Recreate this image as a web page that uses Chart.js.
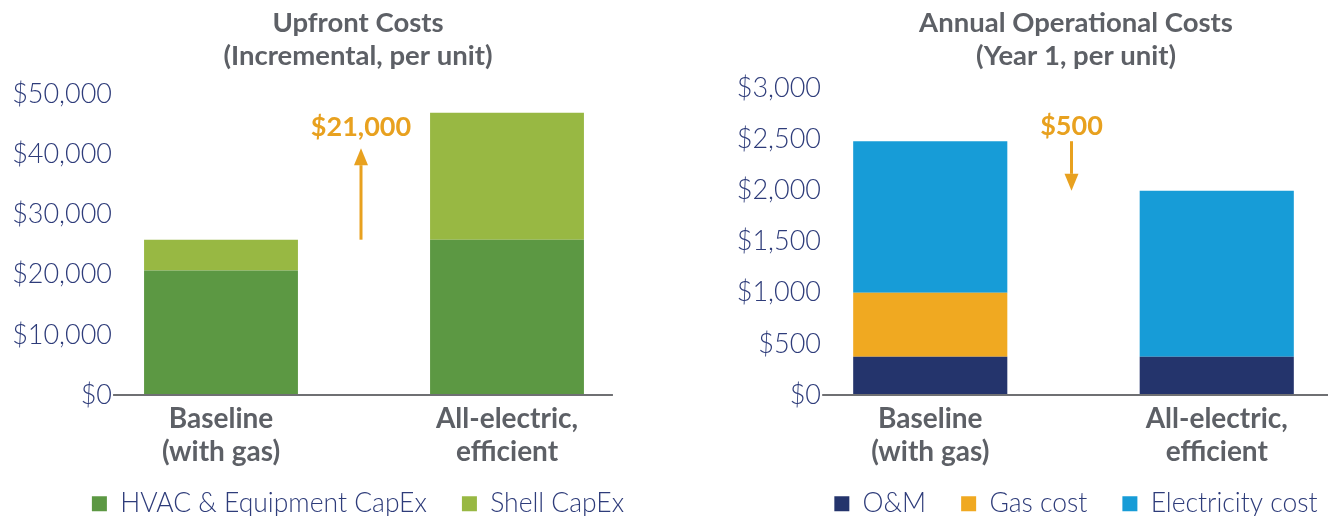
<!DOCTYPE html>
<html>
<head>
<meta charset="utf-8">
<script src="https://cdn.jsdelivr.net/npm/chart.js@4"></script>
<style>
  html, body { margin: 0; padding: 0; background: #fff; overflow: hidden; width: 1328px; height: 516px; }
  canvas { position: absolute; top: 0; }
  #upfront { left: 0; }
  #ops { left: 664px; }
</style>
</head>
<body>
<canvas id="upfront" width="716" height="527"></canvas>
<canvas id="ops" width="824" height="527"></canvas>
<script>
// categories shared by both panels
const categories = [["Baseline", "(with gas)"], ["All-electric,", "efficient"]];

// upfront costs (incremental, per unit)
const upfrontTitle = ["Upfront Costs", "(Incremental, per unit)"];
const hvacCapex = [20700, 25800];
const shellCapex = [5100, 21100];
const upfrontTicks = [0, 10000, 20000, 30000, 40000, 50000];
const upfrontDelta = { from: 25800, to: 41000, text: "$21,000" };

// annual operational costs (year 1, per unit)
const opsTitle = ["Annual Operational Costs", "(Year 1, per unit)"];
const omCost = [375, 375];
const gasCost = [625, 0];
const electricityCost = [1480, 1620];
const opsTicks = [0, 500, 1000, 1500, 2000, 2500, 3000];
const opsDelta = { from: 2480, to: 1995, text: "$500" };

const FONT = "Lato, 'Open Sans', sans-serif";
const NAVY_TEXT = "#2e3c7a";
const GRAY_TEXT = "#5d6066";
const ORANGE = "#e8a11f";
const TICK_FONT = { family: FONT, size: 27, weight: "300" };

const money = v => "$" + Number(v).toLocaleString("en-US");

// widest y label, so the right-aligned labels can sit over the chart area edge
function widestLabel(values) {
  const ctx = document.createElement("canvas").getContext("2d");
  ctx.font = TICK_FONT.weight + " " + TICK_FONT.size + "px " + TICK_FONT.family;
  return Math.max(...values.map(v => ctx.measureText(money(v)).width));
}

// gray baseline under the bars, a bit wider than the bars
const baseline = {
  id: "baseline",
  afterDatasetsDraw(chart, args, opts) {
    const bars = chart.getDatasetMeta(0).data;
    if (!bars.length) return;
    const first = bars[0], last = bars[bars.length - 1];
    const y = chart.scales.y.getPixelForValue(0);
    const ctx = chart.ctx;
    ctx.save();
    ctx.strokeStyle = "#6f7073";
    ctx.lineWidth = 2;
    ctx.beginPath();
    ctx.moveTo(first.x - first.width / 2 - opts.left, y);
    ctx.lineTo(last.x + last.width / 2 + opts.right, y);
    ctx.stroke();
    ctx.restore();
  }
};

// orange arrow with the difference
const delta = {
  id: "delta",
  afterDraw(chart, args, opts) {
    const xs = chart.scales.x, ys = chart.scales.y;
    const x = (xs.getPixelForValue(0) + xs.getPixelForValue(1)) / 2 + opts.shift;
    const y0 = ys.getPixelForValue(opts.from);
    const y1 = ys.getPixelForValue(opts.to);
    const dir = y1 < y0 ? 1 : -1;
    const head = 17, half = 7;
    const ctx = chart.ctx;
    ctx.save();
    ctx.strokeStyle = ORANGE;
    ctx.fillStyle = ORANGE;
    ctx.lineWidth = 3;
    ctx.beginPath();
    ctx.moveTo(x, y0);
    ctx.lineTo(x, y1 + dir * head);
    ctx.stroke();
    ctx.beginPath();
    ctx.moveTo(x, y1);
    ctx.lineTo(x - half, y1 + dir * head);
    ctx.lineTo(x + half, y1 + dir * head);
    ctx.closePath();
    ctx.fill();
    ctx.font = "bold 27px " + FONT;
    ctx.textAlign = "center";
    ctx.textBaseline = "middle";
    ctx.fillText(opts.text, x, Math.min(y0, y1) - opts.gap);
    ctx.restore();
  }
};

function makeChart(id, cfg) {
  return new Chart(document.getElementById(id), {
    type: "bar",
    data: { labels: categories, datasets: cfg.datasets },
    plugins: [baseline, delta],
    options: {
      responsive: false,
      devicePixelRatio: 1,
      animation: false,
      datasets: { bar: { barPercentage: 0.538, categoryPercentage: 1 } },
      layout: { padding: 0 },
      scales: {
        x: {
          stacked: true,
          grid: { display: false, drawTicks: false },
          border: { display: false },
          ticks: {
            color: GRAY_TEXT,
            mirror: true,
            padding: -40.5,
            font: { family: FONT, size: 28, weight: "bold", lineHeight: 33 / 28 }
          },
          afterFit: s => { s.height = cfg.xHeight; }
        },
        y: {
          stacked: true,
          min: 0,
          max: cfg.ticks[cfg.ticks.length - 1],
          afterBuildTicks: s => { s.ticks = cfg.ticks.map(v => ({ value: v })); },
          grid: { display: false, drawTicks: false },
          border: { display: false },
          ticks: {
            color: NAVY_TEXT,
            mirror: true,
            crossAlign: "far",
            padding: 34 - widestLabel(cfg.ticks),
            font: TICK_FONT,
            callback: money
          },
          afterFit: s => { s.width = cfg.yWidth; }
        },
        pad: {
          type: "linear",
          position: "right",
          grid: { display: false },
          border: { display: false },
          ticks: { display: false },
          afterFit: s => { s.width = cfg.rightSpace; }
        }
      },
      plugins: {
        tooltip: { enabled: false },
        title: {
          display: true,
          text: cfg.title,
          color: GRAY_TEXT,
          padding: { top: 7, bottom: cfg.titleGap },
          font: { family: FONT, size: 27.5, weight: "bold", lineHeight: 33 / 27.5 }
        },
        legend: {
          position: "bottom",
          labels: {
            color: NAVY_TEXT,
            boxWidth: 15,
            boxHeight: 15,
            padding: 35,
            font: { family: FONT, size: 26.5, weight: "300" }
          }
        },
        baseline: cfg.baseline,
        delta: cfg.delta
      }
    }
  });
}

makeChart("upfront", {
  title: upfrontTitle,
  ticks: upfrontTicks,
  titleGap: 21,
  xHeight: 60.5,
  yWidth: 78,
  rightSpace: 66,
  baseline: { left: 31, right: 29 },
  delta: Object.assign({ gap: 21, shift: -3 }, upfrontDelta),
  datasets: [
    { label: "HVAC & Equipment CapEx", data: hvacCapex, backgroundColor: "#5c9843" },
    { label: "Shell CapEx", data: shellCapex, backgroundColor: "#98b843" }
  ]
});

makeChart("ops", {
  title: opsTitle,
  ticks: opsTicks,
  titleGap: 15,
  xHeight: 60.5,
  yWidth: 123,
  rightSpace: 128,
  baseline: { left: 31, right: 80 },
  delta: Object.assign({ gap: 15, shift: -2 }, opsDelta),
  datasets: [
    { label: "O&M", data: omCost, backgroundColor: "#24346c" },
    { label: "Gas cost", data: gasCost, backgroundColor: "#f0a921" },
    { label: "Electricity cost", data: electricityCost, backgroundColor: "#179cd7" }
  ]
});
</script>
</body>
</html>
